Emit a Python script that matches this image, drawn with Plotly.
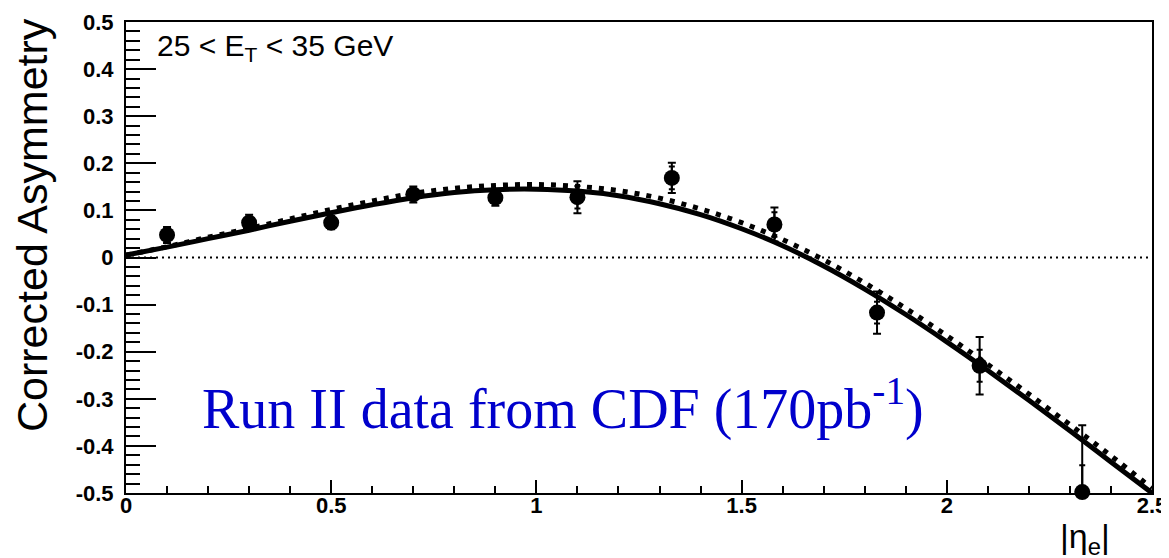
import plotly.graph_objects as go

# ---- data ----
eta = [0.1, 0.3, 0.5, 0.7, 0.9, 1.1, 1.33, 1.58, 1.83, 2.08, 2.33]
asym = [0.048, 0.074, 0.074, 0.134, 0.127, 0.128, 0.169, 0.070, -0.117, -0.230, -0.498]
err_tot = [0.017, 0.017, 0.014, 0.017, 0.017, 0.034, 0.032, 0.036, 0.045, 0.061, 0.142]
err_stat = [0.010, 0.010, 0.009, 0.011, 0.011, 0.024, 0.024, 0.026, 0.023, 0.034, 0.057]

curve_x = [0.0, 0.1, 0.2, 0.3, 0.4, 0.5, 0.6, 0.7, 0.8, 0.9, 1.0, 1.1, 1.2,
           1.3, 1.4, 1.5, 1.6, 1.7, 1.8, 1.9, 2.0, 2.1, 2.2, 2.3, 2.4, 2.5]
curve_solid = [0.005, 0.022, 0.040, 0.058, 0.077, 0.095, 0.112, 0.127, 0.138, 0.144,
               0.145, 0.141, 0.131, 0.114, 0.091, 0.061, 0.025, -0.018, -0.067, -0.121,
               -0.179, -0.240, -0.303, -0.368, -0.434, -0.500]
curve_dashed = [0.005, 0.023, 0.043, 0.062, 0.082, 0.102, 0.120, 0.136, 0.147, 0.153,
                0.155, 0.151, 0.142, 0.126, 0.103, 0.074, 0.038, -0.005, -0.054, -0.108,
                -0.166, -0.227, -0.290, -0.355, -0.421, -0.490]

zero_x = [0.0, 2.5]
zero_y = [0.0, 0.0]

x_ticks = [0, 0.5, 1, 1.5, 2, 2.5]
x_ticktext = ["0", "0.5", "1", "1.5", "2", "2.5"]
y_ticks = [-0.5, -0.4, -0.3, -0.2, -0.1, 0, 0.1, 0.2, 0.3, 0.4, 0.5]
y_ticktext = ["-0.5", "-0.4", "-0.3", "-0.2", "-0.1", "0", "0.1", "0.2", "0.3", "0.4", "0.5"]

fig = go.Figure()

fig.add_trace(go.Scatter(x=zero_x, y=zero_y, mode="lines",
                         line=dict(color="black", width=2, dash="2px,4px"),
                         showlegend=False, hoverinfo="skip"))
fig.add_trace(go.Scatter(x=curve_x, y=curve_dashed, mode="lines",
                         line=dict(color="black", width=5, dash="5px,7px", shape="spline"),
                         showlegend=False))
fig.add_trace(go.Scatter(x=curve_x, y=curve_solid, mode="lines",
                         line=dict(color="black", width=5, shape="spline"),
                         showlegend=False))
fig.add_trace(go.Scatter(x=eta, y=asym, mode="markers",
                         marker=dict(size=1, color="black", opacity=0),
                         error_y=dict(type="data", array=err_tot, color="black",
                                      thickness=2, width=4),
                         showlegend=False))
fig.add_trace(go.Scatter(x=eta, y=asym, mode="markers",
                         marker=dict(size=1, color="black", opacity=0),
                         error_y=dict(type="data", array=err_stat, color="black",
                                      thickness=2, width=3),
                         showlegend=False))
fig.add_trace(go.Scatter(x=eta, y=asym, mode="markers", cliponaxis=False,
                         marker=dict(size=16, color="black", symbol="circle"),
                         showlegend=False))

tickfont = dict(family="Liberation Sans, Arial", size=22, color="black", weight="bold")

# page body has an 8px margin: figure is drawn at (8, 8)
fig.update_layout(
    width=1161, height=550, autosize=False,
    margin=dict(l=118, r=17, t=14, b=65, autoexpand=False),
    paper_bgcolor="white", plot_bgcolor="white",
    xaxis=dict(range=[0, 2.5], showgrid=False, zeroline=False, automargin=False,
               showline=True, linecolor="black", linewidth=2, mirror=True,
               ticks="inside", ticklen=13, tickwidth=2, tickcolor="black",
               tickvals=x_ticks, ticktext=x_ticktext, tickfont=tickfont,
               ticklabelstandoff=-8,
               minor=dict(ticks="inside", ticklen=7, tickwidth=2, tickcolor="black",
                          dtick=0.1, tick0=0, showgrid=False)),
    yaxis=dict(range=[-0.5, 0.5], showgrid=False, zeroline=False, automargin=False,
               showline=True, linecolor="black", linewidth=2, mirror=True,
               ticks="inside", ticklen=30, tickwidth=2, tickcolor="black",
               tickvals=y_ticks, ticktext=y_ticktext, tickfont=tickfont,
               ticklabelstandoff=6,
               minor=dict(ticks="inside", ticklen=14, tickwidth=2, tickcolor="black",
                          dtick=0.02, tick0=-0.5, showgrid=False)),
    annotations=[
        dict(text="25 < E<sub>T</sub> < 35 GeV", xref="paper", yref="paper",
             x=(155 - 126) / 1026, y=(493 - 48) / 471, xanchor="left", yanchor="middle",
             showarrow=False, font=dict(family="Liberation Sans, Arial", size=30, color="black")),
        dict(text="Run II data from CDF (170pb<sup>-1</sup>)", xref="paper", yref="paper",
             x=(200 - 126) / 1026, y=(493 - 405) / 471, xanchor="left", yanchor="middle",
             showarrow=False, font=dict(family="Liberation Serif, Times New Roman", size=56,
                                         color="#0000cc")),
        dict(text="Corrected Asymmetry", xref="paper", yref="paper", textangle=-90,
             x=(32 - 126) / 1026, y=(493 - 225) / 471, xanchor="center", yanchor="middle",
             showarrow=False, font=dict(family="Liberation Sans, Arial", size=43, color="black")),
        dict(text="|η<sub>e</sub>|", xref="paper", yref="paper",
             x=(1112 - 126) / 1026, y=(493 - 538) / 471, xanchor="right", yanchor="middle",
             showarrow=False, font=dict(family="Liberation Sans, Arial", size=34, color="black")),
    ],
)

fig.write_html("out.html")
